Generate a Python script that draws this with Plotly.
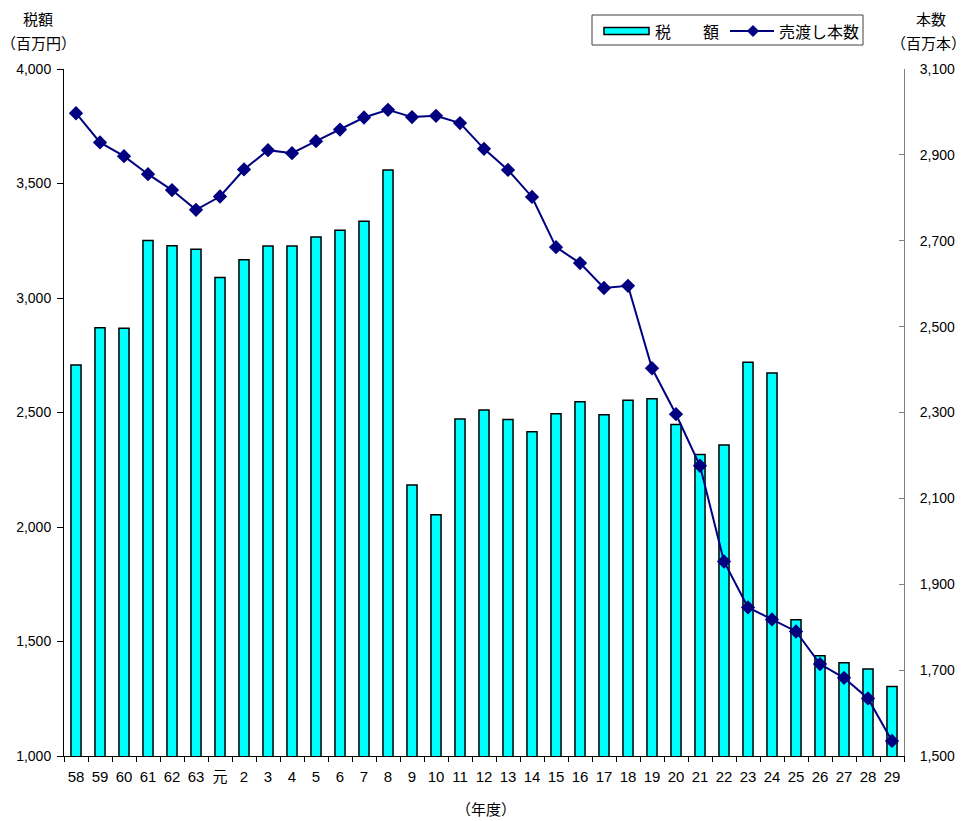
import plotly.graph_objects as go

years = ["58", "59", "60", "61", "62", "63", "元", "2", "3", "4", "5", "6", "7", "8", "9",
         "10", "11", "12", "13", "14", "15", "16", "17", "18", "19", "20", "21", "22",
         "23", "24", "25", "26", "27", "28", "29"]
tax = [2707, 2870, 2868, 3251, 3228, 3213, 3089, 3167, 3227, 3227, 3266, 3296, 3335, 3559,
       2183, 2054, 2472, 2511, 2469, 2416, 2495, 2547, 2490, 2553, 2560, 2448, 2317, 2358,
       2719, 2673, 1595, 1438, 1407, 1380, 1303]
sales = [2997, 2929, 2897, 2855, 2818, 2772, 2803, 2866, 2911, 2904, 2932, 2959, 2987, 3005,
         2988, 2991, 2974, 2914, 2865, 2802, 2685, 2648, 2590, 2595, 2403, 2296, 2176, 1953,
         1846, 1818, 1790, 1714, 1682, 1634, 1535]

FONT = "Liberation Sans, Arial, Noto Sans CJK JP, sans-serif"
JFONT = "Noto Sans CJK JP, sans-serif"

W, H = 966, 821
L, R, T, B = 64, 62, 69, 65
PW, PH = W - L - R, H - T - B


def px(x):
    return (x - L) / PW


def py(y):
    return 1 - (y - T) / PH


fig = go.Figure()
fig.add_trace(go.Bar(
    x=years, y=tax, name="税　　額", width=0.42,
    marker=dict(color="#00FFFF", line=dict(color="black", width=1.5)),
))
fig.add_trace(go.Scatter(
    x=years, y=sales, name="売渡し本数", yaxis="y2", mode="lines+markers",
    line=dict(color="#000080", width=2),
    marker=dict(symbol="diamond", size=11, color="#000080"),
))

fig.update_layout(
    width=W, height=H,
    margin=dict(l=L, r=R, t=T, b=B, autoexpand=False),
    paper_bgcolor="white", plot_bgcolor="white",
    font=dict(family=FONT, size=14, color="black"),
    showlegend=False,
    xaxis=dict(
        type="category", range=[-0.5, len(years) - 0.5],
        showline=True, linecolor="black", linewidth=1,
        ticks="outside", ticklen=5, tickcolor="black", tickson="boundaries",
        tickangle=0, automargin=False, ticklabelstandoff=7,
        tickfont=dict(family=FONT, size=15), showgrid=False,
    ),
    yaxis=dict(
        range=[1000, 4000], tick0=1000, dtick=500, tickformat=",",
        showline=True, linecolor="black", linewidth=1,
        ticks="outside", ticklen=6, tickcolor="black", automargin=False,
        ticklabelstandoff=3,
        showgrid=False, zeroline=False, tickfont=dict(size=14),
    ),
    yaxis2=dict(
        range=[1500, 3100], tick0=1500, dtick=200, tickformat=",",
        overlaying="y", side="right",
        showline=True, linecolor="#808080", linewidth=1,
        ticks="inside", ticklen=5, tickcolor="#808080", automargin=False,
        ticklabelstandoff=12,
        showgrid=False, zeroline=False, tickfont=dict(size=14),
    ),
)

# Custom legend
shapes = [
    dict(type="rect", xref="paper", yref="paper",
         x0=px(592), x1=px(863), y0=py(15), y1=py(45),
         line=dict(color="#404040", width=1), fillcolor="white", layer="above"),
    dict(type="rect", xref="paper", yref="paper",
         x0=px(604), x1=px(649), y0=py(27.5), y1=py(34.5),
         line=dict(color="black", width=1.5), fillcolor="#00FFFF", layer="above"),
    dict(type="line", xref="paper", yref="paper",
         x0=px(730), x1=px(774), y0=py(31), y1=py(31),
         line=dict(color="#000080", width=2), layer="above"),
    dict(type="path", xref="paper", yref="paper",
         xsizemode="pixel", ysizemode="pixel", xanchor=px(753), yanchor=py(31),
         path="M 0 5.5 L 5.5 0 L 0 -5.5 L -5.5 0 Z",
         fillcolor="#000080", line=dict(color="#000080", width=1), layer="above"),
]
fig.update_layout(shapes=shapes)

fig.add_annotation(text="税　　額", xref="paper", yref="paper", x=px(653), y=py(31),
                   xanchor="left", yanchor="middle", showarrow=False,
                   font=dict(family=JFONT, size=16, color="black"))
fig.add_annotation(text="売渡し本数", xref="paper", yref="paper", x=px(777), y=py(31),
                   xanchor="left", yanchor="middle", showarrow=False,
                   font=dict(family=JFONT, size=16, color="black"))

ann = [
    dict(text="税額", x=38, y=19, s=15),
    dict(text="（百万円）", x=38, y=42, s=15),
    dict(text="本数", x=931, y=19, s=15),
    dict(text="（百万本）", x=929, y=42, s=15),
    dict(text="（年度）", x=486, y=808, s=15),
]
for a in ann:
    fig.add_annotation(
        text=a["text"], xref="paper", yref="paper",
        x=px(a["x"]), y=py(a["y"]),
        xanchor="center", yanchor="middle", showarrow=False,
        font=dict(family=JFONT, size=a["s"], color="black"),
    )

fig.write_html("out.html", config={"displayModeBar": False},
               post_script="document.body.style.margin='0';")
